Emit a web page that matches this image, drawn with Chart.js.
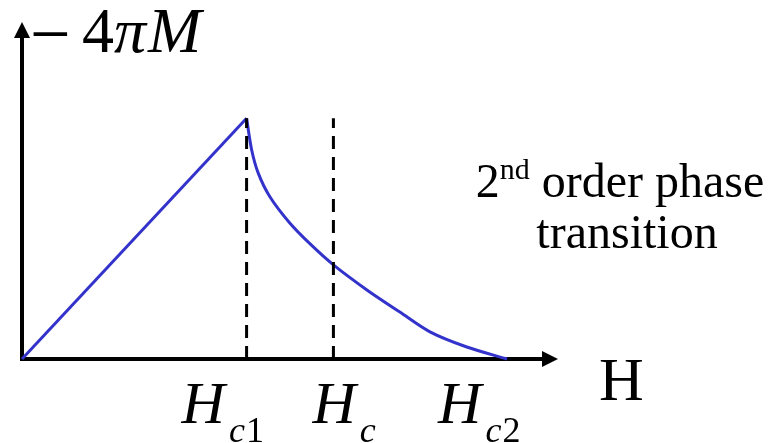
<!DOCTYPE html>
<html>
<head>
<meta charset="utf-8">
<script src="https://cdn.jsdelivr.net/npm/chart.js@4.4.1/dist/chart.umd.min.js"></script>
<style>
  html, body { margin: 0; padding: 0; background: #fff; }
</style>
</head>
<body>
<canvas id="chart" width="779" height="443"></canvas>
<script>
// -4piM vs H for a type-II superconductor
const risingH = [0, 46.3];
const risingM = [0, 1.0];
const fallingH = [46.3, 47.35, 48.7, 51.1, 55.2, 59.4, 64.2, 71.1, 77.9, 84.1, 91.7, 100];
const fallingM = [1.0, 0.868, 0.772, 0.674, 0.565, 0.478, 0.391, 0.287, 0.195, 0.113, 0.050, 0];

// critical fields Hc1, Hc, Hc2 and their subscripts
const criticalFields = [46.3, 64.2, 100];
const criticalSubs = [["c", "1"], ["c", ""], ["c", "2"]];

// dashed markers at Hc1 and Hc, up to the peak
const markerFields = [46.3, 64.2];
const markerTop = 1.0;

const SERIF = '"Liberation Serif", "Times New Roman", serif';
const BLUE = "#3333cc";

const toPoints = (xs, ys) => xs.map((x, i) => ({ x: x, y: ys[i] }));

const datasets = [
  {
    data: toPoints(risingH, risingM),
    borderColor: BLUE, borderWidth: 3, pointRadius: 0, tension: 0, clip: false
  },
  {
    data: toPoints(fallingH, fallingM),
    borderColor: BLUE, borderWidth: 3, pointRadius: 0, tension: 0.3, clip: false
  }
];
markerFields.forEach(h => {
  datasets.unshift({
    data: [{ x: h, y: 0 }, { x: h, y: markerTop }],
    borderColor: "#000", borderWidth: 3, borderDash: [13, 8],
    pointRadius: 0, clip: false
  });
});

// label offsets from each tick position
const tickShift = [-65, -21, -69];

const axesPlugin = {
  id: "axes",
  beforeDatasetsDraw(chart) {
    const { ctx, scales: { x, y } } = chart;
    const x0 = x.getPixelForValue(0), y0 = y.getPixelForValue(0);
    const xEnd = x.right, yEnd = y.top;
    ctx.save();
    ctx.strokeStyle = "#000";
    ctx.fillStyle = "#000";
    ctx.lineWidth = 4;
    ctx.beginPath();
    ctx.moveTo(x0, y0 + 2);
    ctx.lineTo(x0, yEnd + 12);
    ctx.moveTo(x0 - 2, y0);
    ctx.lineTo(xEnd - 12, y0);
    ctx.stroke();
    // arrow heads
    ctx.beginPath();
    ctx.moveTo(x0, yEnd);
    ctx.lineTo(x0 - 8, yEnd + 16);
    ctx.lineTo(x0 + 8, yEnd + 16);
    ctx.closePath();
    ctx.fill();
    ctx.beginPath();
    ctx.moveTo(xEnd, y0);
    ctx.lineTo(xEnd - 16, y0 - 8);
    ctx.lineTo(xEnd - 16, y0 + 8);
    ctx.closePath();
    ctx.fill();
    ctx.restore();
  },
  afterDraw(chart) {
    const { ctx, scales: { x } } = chart;
    ctx.save();
    ctx.fillStyle = "#000";
    ctx.textBaseline = "alphabetic";
    ctx.textAlign = "left";

    // y axis title: -4piM
    ctx.font = "72px " + SERIF;
    ctx.fillText("\u2212", 30, 58);
    ctx.font = "64px " + SERIF;
    ctx.fillText("4", 82, 52);
    ctx.font = "italic 64px " + SERIF;
    ctx.fillText("\u03c0", 114, 52);
    ctx.fillText("M", 148, 52);

    // x axis title
    ctx.font = "62px " + SERIF;
    ctx.fillText("H", 599, 400);

    // critical field labels
    criticalFields.forEach((h, i) => {
      const px = x.getPixelForValue(h) + tickShift[i];
      ctx.font = "italic 60px " + SERIF;
      ctx.fillText("H", px, 423);
      let sx = px + ctx.measureText("H").width + 4;
      ctx.font = "italic 36px " + SERIF;
      ctx.fillText(criticalSubs[i][0], sx, 442);
      sx += ctx.measureText(criticalSubs[i][0]).width + 1;
      ctx.font = "36px " + SERIF;
      ctx.fillText(criticalSubs[i][1], sx, 442);
    });

    // annotation
    const cx = 620;
    ctx.font = "48px " + SERIF;
    const w2 = ctx.measureText("2").width;
    const wRest = ctx.measureText(" order phase").width;
    ctx.font = "30px " + SERIF;
    const wSup = ctx.measureText("nd").width;
    const ax = cx - (w2 + wSup + wRest) / 2;
    ctx.font = "48px " + SERIF;
    ctx.fillText("2", ax, 197);
    ctx.font = "30px " + SERIF;
    ctx.fillText("nd", ax + w2, 179);
    ctx.font = "48px " + SERIF;
    ctx.fillText(" order phase", ax + w2 + wSup, 197);
    ctx.textAlign = "center";
    ctx.fillText("transition", 627, 248);
    ctx.restore();
  }
};

new Chart(document.getElementById("chart"), {
  type: "line",
  data: { datasets: datasets },
  options: {
    responsive: false,
    animation: false,
    layout: { padding: { left: 22, top: 22, right: 221, bottom: 84 } },
    plugins: { legend: { display: false }, tooltip: { enabled: false } },
    scales: {
      x: { type: "linear", display: false, min: 0, max: 110.5 },
      y: { type: "linear", display: false, min: 0, max: 1.4 }
    }
  },
  plugins: [axesPlugin]
});
</script>
</body>
</html>
